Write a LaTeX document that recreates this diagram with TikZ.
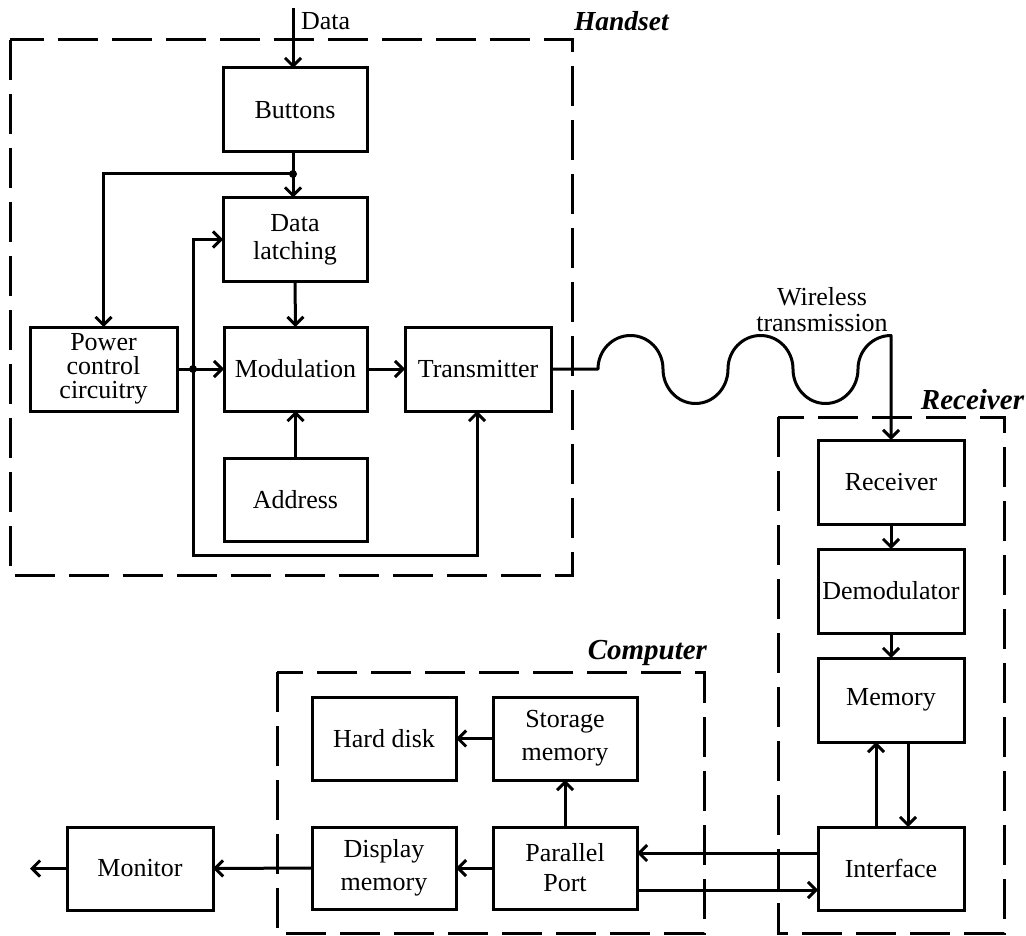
\documentclass[tikz,border=0pt]{standalone}
\usepackage{fontspec}
\setmainfont{Liberation Serif}
\usetikzlibrary{arrows.meta}
\begin{document}
\begin{tikzpicture}[x=1pt,y=-1pt,
  every node/.style={inner sep=0pt,outer sep=0pt},
  blk/.style={draw,line width=3pt,minimum width=144pt,minimum height=84pt,
    align=center,font=\fontsize{26}{26}\selectfont},
  wire/.style={line width=3pt},
  arr/.style={wire,-{Straight Barb[length=8pt,width=16pt]}},
  dashbox/.style={line width=3pt,dash pattern=on 40pt off 14pt},
  grouplabel/.style={font=\fontsize{29}{29}\selectfont\bfseries\itshape},
  jdot/.style={fill,circle,minimum size=8pt}]
\useasboundingbox (0,0) rectangle (1026,936);

% group frames
\draw[dashbox] (10,40) rectangle (572,575);
\draw[dashbox] (778,417) rectangle (1004,933);
\draw[dashbox] (277,672) rectangle (704,933);
\node[grouplabel,font=\fontsize{27.5}{28}\selectfont\bfseries\itshape,anchor=west] (lhand) at (574,21) {Handset};
\node[grouplabel,anchor=east] (lrecv) at (1024,400) {Receiver};
\node[grouplabel,anchor=east] (lcomp) at (707,653) {Computer};

% handset blocks
\node[blk] (btn) at (295,110) {Buttons};
\node[blk,font=\fontsize{26}{28}\selectfont] (latch) at (295,239.5) {Data\\latching};
\node[blk,minimum width=147pt,font=\fontsize{26}{24}\selectfont] (pwr) at (103.5,369) {Power\\control\\circuitry};
\node[blk,minimum width=143pt] (mod) at (295.5,369) {Modulation};
\node[blk,minimum width=146pt] (tx) at (478,369) {Transmitter};
\node[blk,minimum width=143pt,minimum height=83pt] (addr) at (295.5,499.5) {Address};

% receiver blocks
\node[blk,minimum width=146pt] (rcv) at (891,482) {Receiver};
\node[blk,minimum width=146pt] (demod) at (891,591) {Demodulator};
\node[blk,minimum width=146pt] (mem) at (891,700) {Memory};
\node[blk,minimum width=146pt,minimum height=83pt] (intf) at (891,868.5) {Interface};

% computer blocks and monitor
\node[blk,minimum height=83pt] (hdd) at (384,738.5) {Hard disk};
\node[blk,minimum height=83pt,font=\fontsize{26}{33}\selectfont] (stor) at (565,738.5) {Storage\\memory};
\node[blk,minimum height=82pt,font=\fontsize{26}{33}\selectfont] (disp) at (384,868) {Display\\memory};
\node[blk,minimum height=82pt,font=\fontsize{26}{30}\selectfont] (par) at (565,868) {Parallel\\Port};
\node[blk,minimum width=146pt,minimum height=83pt] (mon) at (140,868.5) {Monitor};

% handset wiring
\coordinate (din) at (293,8);
\node[anchor=west,font=\fontsize{26}{26}\selectfont] (ldata) at (301,21) {Data};
\draw[arr] (din) -- (din |- btn.north);
\coordinate (j1) at (293,174);
\draw[arr] (j1 |- btn.south) -- (j1 |- latch.north);
\draw[arr] (j1) -| (pwr.north);
\node[jdot] (j1dot) at (j1) {};
\draw[arr] (latch.south) -- (mod.north);
\coordinate (j2) at (193,369);
\draw[arr] (pwr.east) -- (mod.west);
\node[jdot] (j2dot) at (j2) {};
\draw[arr] (j2) |- (latch.west);
\coordinate (loop) at (477,555);
\draw[arr] (j2) |- (loop) -- (loop |- tx.south);
\draw[arr] (addr.north) -- (mod.south);
\draw[arr] (mod.east) -- (tx.west);

% radio link: round lobes, ending in a quarter turn that drops to the receiver
\node[align=center,font=\fontsize{26}{26}\selectfont] (lwire) at (822,310) {Wireless\\transmission};
\draw[arr,line join=round] (tx.east) -- (598,369)
  arc[start angle=180,end angle=360,x radius=32.5,y radius=33.5]
  arc[start angle=180,end angle=0,x radius=32.5,y radius=34.5]
  arc[start angle=180,end angle=360,x radius=32.5,y radius=33.5]
  arc[start angle=180,end angle=0,x radius=32.5,y radius=34.5]
  arc[start angle=180,end angle=270,x radius=33,y radius=33.5] -- (rcv.north);

% receiver wiring
\draw[arr] (rcv.south) -- (demod.north);
\draw[arr] (demod.south) -- (mem.north);
\coordinate (mu) at (876,0);
\coordinate (md) at (908,0);
\draw[arr] (mu |- intf.north) -- (mu |- mem.south);
\draw[arr] (md |- mem.south) -- (md |- intf.north);

% computer wiring
\coordinate (bus1) at (700,853);
\coordinate (bus2) at (700,890);
\draw[arr] (intf.west |- bus1) -- (par.east |- bus1);
\draw[arr] (par.east |- bus2) -- (intf.west |- bus2);
\draw[arr] (par.north) -- (stor.south);
\draw[arr] (stor.west) -- (hdd.east);
\draw[arr] (par.west) -- (disp.east);
\draw[arr] (disp.west) -- (mon.east);
\coordinate (monout) at (30,868.5);
\draw[arr] (mon.west) -- (monout);
\end{tikzpicture}
\end{document}
